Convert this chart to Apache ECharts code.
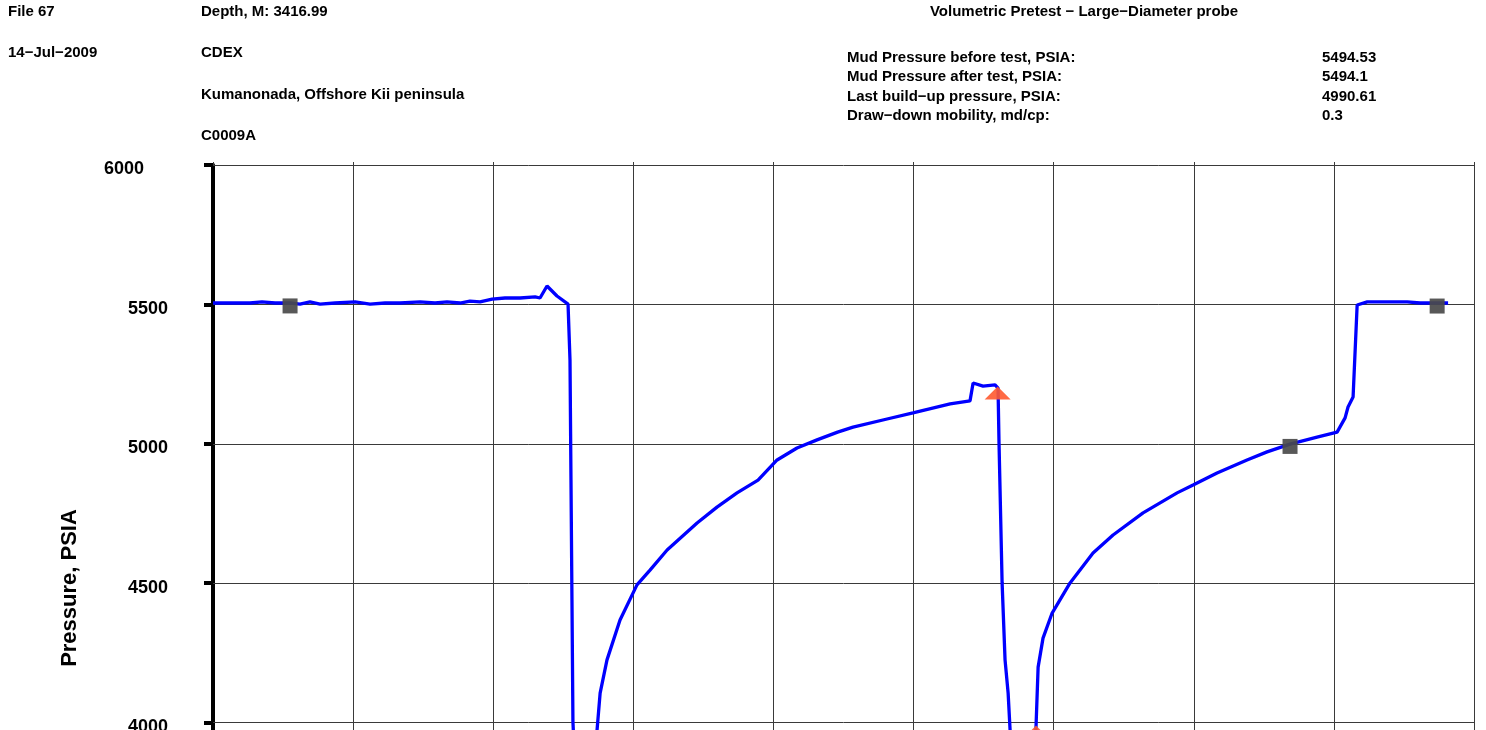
<!DOCTYPE html>
<html>
<head>
<meta charset="utf-8">
<title>Volumetric Pretest</title>
<script src="https://cdn.jsdelivr.net/npm/echarts@6/dist/echarts.min.js"></script>
<style>
  html, body { margin: 0; padding: 0; background: #fff; }
  #chart { width: 1486px; height: 730px; }
</style>
</head>
<body>
<div id="chart"></div>
<script>
// Header text
const fileInfo = ['File 67', '14\u2212Jul\u22122009'];
const wellInfo = ['Depth, M: 3416.99', 'CDEX', 'Kumanonada, Offshore Kii peninsula', 'C0009A'];
const testTitle = 'Volumetric Pretest \u2212 Large\u2212Diameter probe';
const statLabels = [
  'Mud Pressure before test, PSIA:',
  'Mud Pressure after test, PSIA:',
  'Last build\u2212up pressure, PSIA:',
  'Draw\u2212down mobility, md/cp:'
];
const mudBefore = 5494.53;
const mudAfter = 5494.1;
const lastBuildUp = 4990.61;
const mobility = 0.3;
const statValues = [mudBefore, mudAfter, lastBuildUp, mobility];

// Pressure record: elapsed time (s) and gauge pressure (PSIA)
const timeSec = [
  0, 12.1, 26.4, 35.0, 44.3, 55.0, 62.1, 69.2, 76.4, 87.1,
  101.4, 112.1, 122.8, 133.5, 147.8, 158.5, 167.0, 176.3, 183.4, 190.6,
  199.2, 208.4, 219.2, 229.9, 233.4, 238.4, 245.5, 253.4, 254.8, 255.5,
  256.2, 256.9, 260.5, 272.0, 274.1, 276.3, 281.2, 290.5, 302.6, 311.9,
  324.1, 345.5, 359.7, 374.0, 389.0, 402.6, 416.8, 431.1, 445.8, 456.8,
  481.1, 499.6, 526.1, 540.3, 542.5, 549.6, 558.2, 560.3, 561.0, 563.2,
  565.3, 567.5, 568.9, 571.7, 584.6, 587.4, 588.9, 592.4, 598.9, 611.7,
  628.1, 642.4, 663.8, 688.1, 699.5, 716.6, 738.0, 752.3, 768.7, 788.0,
  802.3, 808.0, 810.1, 813.7, 816.6, 823.8, 852.3, 861.5, 881.5
];
const pressurePsia = [
  5505, 5505, 5505, 5509, 5505, 5505, 5501, 5509, 5501, 5505,
  5509, 5501, 5505, 5505, 5509, 5505, 5509, 5505, 5512, 5509,
  5519, 5523, 5523, 5527, 5523, 5566, 5530, 5501, 5300, 4870,
  4440, 4002, 3600, 3650, 3973, 4106, 4225, 4368, 4494, 4547,
  4619, 4716, 4773, 4824, 4870, 4942, 4985, 5014, 5042, 5060,
  5089, 5111, 5143, 5154, 5218, 5207, 5211, 5200, 5003, 4501,
  4225, 4106, 3973, 3600, 3650, 3984, 4199, 4303, 4393, 4501,
  4608, 4673, 4752, 4824, 4852, 4895, 4942, 4971, 4999, 5024,
  5042, 5093, 5132, 5168, 5498, 5509, 5509, 5505, 5505
];

// Picked pressures (squares) and draw-down start/end (triangles)
const pickTimes = [55.0, 768.7, 873.7];
const pickPressures = [mudBefore, lastBuildUp, mudAfter];
const drawdownTimes = [560.0, 587.4];
const drawdownPressures = [5182, 3966];

// Axis settings
const timeMin = 0, timeMax = 900, timeStep = 100;
const pMin = 3500, pMax = 6000, pStep = 500;

const FONT = '"Liberation Sans", Arial, sans-serif';
const GRID_COLOR = '#3a3a3a';

const zip = (a, b) => a.map((v, i) => [v, b[i]]);

const chart = echarts.init(document.getElementById('chart'));

const headerText = [];
const txt = (x, y, text, extra) => Object.assign({
  type: 'text', x: x, y: y, silent: true,
  style: Object.assign({
    text: text, font: 'bold 15px ' + FONT, fill: '#000',
    align: 'left', verticalAlign: 'middle'
  }, extra || {})
});
const leftRows = [12, 53, 95, 136];
fileInfo.forEach((t, i) => headerText.push(txt(8, leftRows[i], t)));
wellInfo.forEach((t, i) => headerText.push(txt(201, leftRows[i], t)));
headerText.push(txt(1084, 12, testTitle, { align: 'center' }));
const statRows = [58, 77, 97, 116];
statLabels.forEach((t, i) => headerText.push(txt(847, statRows[i], t)));
statValues.forEach((v, i) => headerText.push(txt(1322, statRows[i], String(v))));
headerText.push({
  type: 'text', x: 70, y: 588, rotation: Math.PI / 2, silent: true,
  style: { text: 'Pressure, PSIA', font: 'bold 22px ' + FONT, fill: '#000', align: 'center', verticalAlign: 'middle' }
});

const option = {
  backgroundColor: '#ffffff',
  animation: false,
  grid: { left: 213, top: 165, width: 1261, height: 697, outerBoundsMode: 'none', containLabel: false },
  xAxis: [
    {
      type: 'value', min: timeMin, max: timeMax, interval: timeStep, position: 'bottom',
      axisLine: { show: false }, axisTick: { show: false }, axisLabel: { show: false },
      splitLine: { show: true, lineStyle: { color: GRID_COLOR, width: 1 } }
    },
    {
      type: 'value', min: timeMin, max: timeMax, interval: timeStep, position: 'top',
      axisLine: { show: false },
      axisTick: { show: true, length: 3, lineStyle: { color: GRID_COLOR, width: 1 } },
      axisLabel: { show: false }, splitLine: { show: false }
    }
  ],
  yAxis: [
    {
      type: 'value', min: pMin, max: pMax, interval: pStep, position: 'left',
      axisLine: { show: true, lineStyle: { color: '#000', width: 4 } },
      axisTick: { show: true, length: 9, lineStyle: { color: '#000', width: 4 } },
      axisLabel: {
        show: true, margin: 45, padding: [9, 0, 0, 0],
        fontFamily: FONT, fontWeight: 'bold', fontSize: 18, color: '#000',
        formatter: v => (v === pMax ? '{top|' + v + '}' : '{n|' + v + '}'),
        rich: {
          top: { fontFamily: FONT, fontWeight: 'bold', fontSize: 18, color: '#000', padding: [0, 24, 0, 0] },
          n: { fontFamily: FONT, fontWeight: 'bold', fontSize: 18, color: '#000' }
        }
      },
      splitLine: { show: true, lineStyle: { color: GRID_COLOR, width: 1 } }
    },
    {
      type: 'value', min: pMin, max: pMax, interval: pStep, position: 'right',
      axisLine: { show: false },
      axisTick: { show: true, length: 5, lineStyle: { color: GRID_COLOR, width: 1 } },
      axisLabel: { show: false }, splitLine: { show: false }
    }
  ],
  graphic: headerText,
  series: [
    {
      name: 'Pressure', type: 'line', xAxisIndex: 0, yAxisIndex: 0,
      data: zip(timeSec, pressurePsia),
      showSymbol: false, smooth: false,
      lineStyle: { color: '#0000ff', width: 3.3 },
      z: 3
    },
    {
      name: 'Picks', type: 'scatter', xAxisIndex: 0, yAxisIndex: 0,
      data: zip(pickTimes, pickPressures),
      symbol: 'rect', symbolSize: 15,
      itemStyle: { color: '#4a4a4a', opacity: 0.92 },
      z: 4
    },
    {
      name: 'Draw-down', type: 'scatter', xAxisIndex: 0, yAxisIndex: 0,
      data: zip(drawdownTimes, drawdownPressures),
      symbol: 'triangle', symbolSize: [26, 13],
      itemStyle: { color: '#ff5a30', opacity: 0.9 },
      z: 4
    }
  ]
};

chart.setOption(option);
</script>
</body>
</html>
